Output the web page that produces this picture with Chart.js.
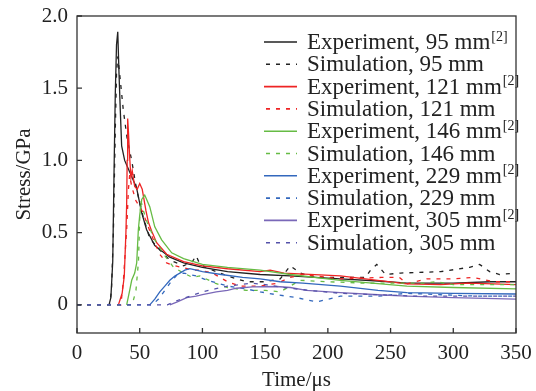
<!DOCTYPE html>
<html>
<head>
<meta charset="utf-8">
<script src="https://cdn.jsdelivr.net/npm/chart.js@4.4.1/dist/chart.umd.min.js"></script>
<style>
  html, body { margin: 0; padding: 0; background: #fff; }
  #wrap { width: 536px; height: 391px; }
</style>
</head>
<body>
<div id="wrap"><canvas id="c" width="536" height="391"></canvas></div>
<script>
// time (us) / stress (GPa)
const exp95T = [25.5, 27, 28.5, 29.5, 30.5, 31.5, 32.5, 33.5, 34.5, 35.6, 38, 42, 47.5, 51.5, 55.5, 62, 74, 85, 100, 120, 146, 170, 210, 240, 263, 300, 330, 350];
const exp95S = [0, 0.05, 0.3, 0.9, 1.45, 1.8, 1.89, 1.6, 1.35, 1.1, 1.0, 0.92, 0.81, 0.64, 0.52, 0.41, 0.33, 0.29, 0.26, 0.23, 0.21, 0.2, 0.18, 0.165, 0.15, 0.15, 0.16, 0.16];

const sim95T = [0, 26, 27.5, 29, 30.5, 31.5, 32.5, 34, 36.9, 40, 43.6, 47.5, 52.7, 58, 66, 74, 85, 92, 95, 98, 108, 120, 135, 150, 162, 170, 178, 190, 230, 234, 239, 246, 258, 290, 313, 321, 329, 337, 350];
const sim95S = [0, 0, 0.1, 0.5, 1.2, 1.6, 1.72, 1.6, 1.35, 1.15, 1.0, 0.8, 0.61, 0.46, 0.38, 0.31, 0.27, 0.3, 0.34, 0.28, 0.24, 0.2, 0.16, 0.16, 0.18, 0.27, 0.22, 0.19, 0.19, 0.24, 0.28, 0.21, 0.22, 0.23, 0.26, 0.28, 0.23, 0.21, 0.22];

const exp121T = [33, 36, 37.7, 39, 39.6, 40, 40.4, 41, 42, 43, 44, 46, 48, 50, 52, 55, 57, 60, 63.5, 71.5, 85, 100, 120, 146, 154, 165, 210, 263, 290, 311, 332, 350];
const exp121S = [0, 0.08, 0.2, 0.5, 0.7, 1.0, 1.29, 1.2, 1.02, 0.88, 0.93, 0.82, 0.8, 0.84, 0.8, 0.65, 0.57, 0.5, 0.43, 0.35, 0.3, 0.27, 0.25, 0.23, 0.24, 0.22, 0.2, 0.145, 0.14, 0.15, 0.145, 0.14];

const sim121T = [0, 35, 37, 39.6, 41, 42, 43.6, 47, 52, 59.5, 66, 71.5, 78, 93, 98, 108, 120, 130, 146, 160, 170, 180, 210, 243, 257, 263, 279, 300, 316, 332, 350];
const sim121S = [0, 0, 0.17, 0.52, 0.8, 0.9, 0.82, 0.72, 0.65, 0.48, 0.35, 0.29, 0.27, 0.24, 0.24, 0.22, 0.16, 0.13, 0.13, 0.15, 0.19, 0.21, 0.18, 0.19, 0.19, 0.145, 0.18, 0.18, 0.19, 0.16, 0.16];

const exp146T = [39.6, 42, 43.6, 46, 47.6, 48.9, 50, 51.6, 54, 58, 62, 67.5, 75.5, 85, 100, 120, 146, 170, 210, 263, 300, 350];
const exp146S = [0, 0.1, 0.17, 0.22, 0.29, 0.52, 0.62, 0.73, 0.76, 0.68, 0.54, 0.45, 0.36, 0.32, 0.28, 0.26, 0.24, 0.21, 0.17, 0.13, 0.12, 0.11];

const sim146T = [0, 44, 47, 49, 50, 51, 53, 56, 62, 70, 77, 85, 92, 98, 110, 120, 135, 150, 162, 170, 178, 200, 230, 260, 276, 287, 300, 320, 350];
const sim146S = [0, 0, 0.1, 0.3, 0.6, 0.72, 0.65, 0.57, 0.45, 0.34, 0.26, 0.22, 0.19, 0.2, 0.15, 0.12, 0.1, 0.1, 0.09, 0.13, 0.17, 0.16, 0.15, 0.15, 0.15, 0.16, 0.14, 0.14, 0.14];

const exp229T = [58, 62, 66, 70, 74, 78, 82, 86, 90, 95, 100, 115, 132, 146, 162, 180, 210, 240, 263, 300, 350];
const exp229S = [0, 0.04, 0.09, 0.13, 0.17, 0.2, 0.22, 0.24, 0.25, 0.24, 0.23, 0.21, 0.19, 0.18, 0.16, 0.15, 0.13, 0.1, 0.085, 0.08, 0.075];

const sim229T = [0, 60, 65, 70, 75, 80, 85, 95, 104, 120, 135, 146, 159, 175, 191, 210, 240, 263, 290, 320, 350];
const sim229S = [0, 0, 0.04, 0.1, 0.16, 0.21, 0.22, 0.2, 0.17, 0.13, 0.11, 0.09, 0.07, 0.05, 0.02, 0.06, 0.06, 0.08, 0.07, 0.06, 0.06];

const exp305T = [74, 80, 87.5, 95, 100, 111, 120, 127, 140, 159, 170, 183, 210, 240, 263, 300, 350];
const exp305S = [0, 0.02, 0.05, 0.06, 0.07, 0.09, 0.1, 0.115, 0.125, 0.127, 0.12, 0.1, 0.085, 0.07, 0.06, 0.05, 0.04];

const sim305T = [0, 72, 80, 90, 100, 110, 120, 130, 140, 150, 165, 185, 210, 240, 270, 300, 350];
const sim305S = [0, 0, 0.03, 0.06, 0.09, 0.11, 0.13, 0.14, 0.15, 0.14, 0.12, 0.1, 0.08, 0.07, 0.06, 0.06, 0.06];

const seriesLabels = ["Experiment, 95 mm", "Simulation, 95 mm", "Experiment, 121 mm", "Simulation, 121 mm",
  "Experiment, 146 mm", "Simulation, 146 mm", "Experiment, 229 mm", "Simulation, 229 mm",
  "Experiment, 305 mm", "Simulation, 305 mm"];
const seriesData = [[exp95T, exp95S], [sim95T, sim95S], [exp121T, exp121S], [sim121T, sim121S],
  [exp146T, exp146S], [sim146T, sim146S], [exp229T, exp229S], [sim229T, sim229S],
  [exp305T, exp305S], [sim305T, sim305S]];
const xTicks = [0, 50, 100, 150, 200, 250, 300, 350];
const yTicks = [0, 0.5, 1.0, 1.5, 2.0];

const colors = ["#222222", "#222222", "#ee2424", "#ee2424", "#66bb44", "#66bb44", "#3368bd", "#3368bd", "#7a68b8", "#5552aa"];
const DASH = [4, 6];
const serif = '"Liberation Serif", "Times New Roman", serif';

const datasets = seriesData.map(([t, s], i) => ({
  label: seriesLabels[i],
  data: t.map((v, k) => ({ x: v, y: s[k] })),
  borderColor: colors[i],
  borderWidth: 1.3,
  borderDash: i % 2 ? DASH : [],
  pointRadius: 0,
  tension: 0,
  fill: false,
  order: seriesData.length - i
}));

// box, inward ticks and the legend (with the [2] superscript)
const framePlugin = {
  id: "frame",
  afterDraw(chart) {
    const { ctx, chartArea: a, scales: { x, y } } = chart;
    ctx.save();
    ctx.strokeStyle = "#333";
    ctx.lineWidth = 1.3;
    ctx.strokeRect(a.left, a.top, a.right - a.left, a.bottom - a.top);
    ctx.beginPath();
    xTicks.forEach(v => { const px = x.getPixelForValue(v); ctx.moveTo(px, a.bottom); ctx.lineTo(px, a.bottom - 5); });
    yTicks.forEach(v => { const py = y.getPixelForValue(v); ctx.moveTo(a.left, py); ctx.lineTo(a.left + 5, py); });
    ctx.stroke();

    const x0 = a.right - 252, x1 = a.right - 219, tx = a.right - 209;
    chart.data.datasets.forEach((ds, i) => {
      const ry = a.top + 26 + i * 22.3;
      ctx.strokeStyle = ds.borderColor;
      ctx.lineWidth = 1.6;
      ctx.setLineDash(ds.borderDash);
      ctx.lineDashOffset = -2;
      ctx.beginPath(); ctx.moveTo(x0, ry); ctx.lineTo(x1, ry); ctx.stroke();
      ctx.setLineDash([]);
      ctx.fillStyle = "#222";
      ctx.textBaseline = "middle";
      ctx.textAlign = "left";
      ctx.font = "23px " + serif;
      ctx.fillText(ds.label, tx, ry + 1);
      if (ds.label.startsWith("Experiment")) {
        const w = ctx.measureText(ds.label).width;
        ctx.font = "14px " + serif;
        ctx.fillText("[2]", tx + w + 1, ry - 5);
      }
    });
    ctx.restore();
  }
};

// invisible tick marks give the label offset without adding to the layout padding
const hiddenGrid = { display: true, drawOnChartArea: false, drawTicks: true, tickLength: 8, color: "rgba(0,0,0,0)" };

new Chart(document.getElementById("c"), {
  type: "line",
  data: { datasets },
  options: {
    responsive: false,
    animation: false,
    events: [],
    layout: { padding: { top: 16, right: 20, left: 0, bottom: 0 } },
    plugins: { legend: { display: false }, tooltip: { enabled: false } },
    scales: {
      x: {
        type: "linear", min: 0, max: 350,
        afterBuildTicks: s => { s.ticks = xTicks.map(v => ({ value: v })); },
        afterFit: s => { s.height = 58; },
        grid: hiddenGrid,
        border: { display: false },
        ticks: { color: "#222", font: { family: serif, size: 21 }, padding: 0, maxRotation: 0 },
        title: { display: true, text: "Time/\u03bcs", color: "#222", font: { family: serif, size: 21, lineHeight: 1 }, padding: { top: 0, bottom: 0 } }
      },
      y: {
        type: "linear", min: -0.195, max: 2.0,
        afterBuildTicks: s => { s.ticks = yTicks.map(v => ({ value: v })); },
        afterFit: s => { s.width = 77; },
        grid: { ...hiddenGrid, tickLength: 9 },
        border: { display: false },
        ticks: { color: "#222", font: { family: serif, size: 21 }, padding: 0,
          callback: v => v === 0 ? "0" : v.toFixed(1) },
        title: { display: true, text: "Stress/GPa", color: "#222", font: { family: serif, size: 21, lineHeight: 1 }, padding: { top: 14, bottom: 0 } }
      }
    }
  },
  plugins: [framePlugin]
});
</script>
</body>
</html>
